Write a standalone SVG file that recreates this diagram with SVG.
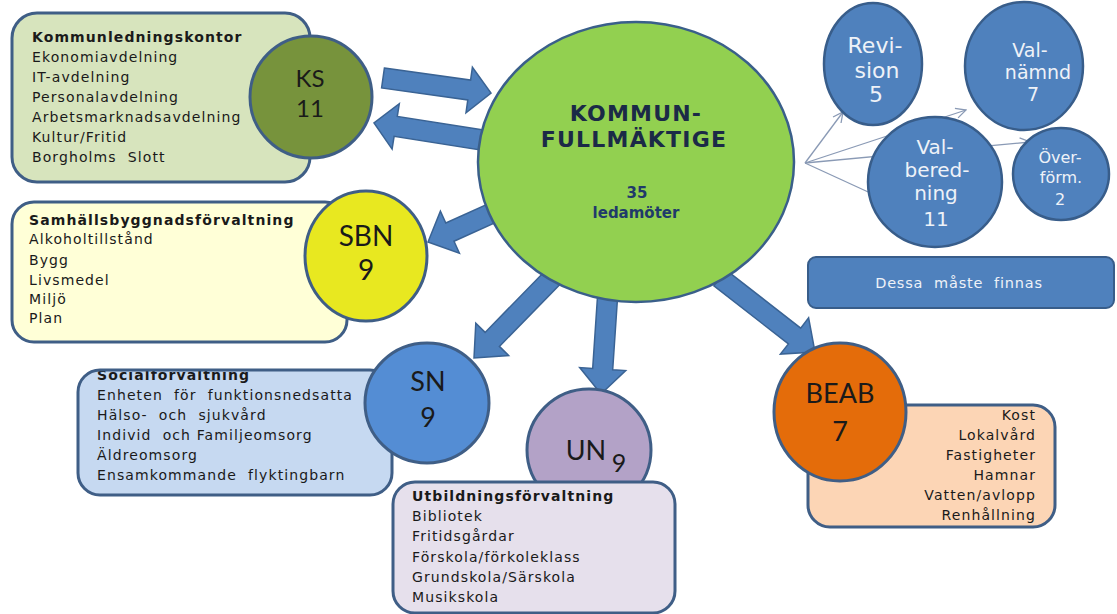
<svg xmlns="http://www.w3.org/2000/svg" width="1117" height="614" viewBox="0 0 1117 614">
<defs>
<marker id="v" viewBox="0 0 12 12" refX="11" refY="6" markerWidth="12" markerHeight="12" markerUnits="userSpaceOnUse" orient="auto"><path d="M1,1 L11,6 L1,11" fill="none" stroke="#8a9ab5" stroke-width="1.3"/></marker>
<style>
.box{stroke:#3f5e86;stroke-width:3}
.edge{fill:none;stroke:#3f5e86;stroke-width:3}
.c{stroke:#3f5e86;stroke-width:3}
.t{font-family:"DejaVu Sans",Verdana,sans-serif;font-size:14px;letter-spacing:1.1px;fill:#1a1a1a}
.tb{font-weight:bold}
.lbl{font-family:Lato,"Open Sans",sans-serif;fill:#1a1a1a;text-anchor:middle}
.wl{font-family:"DejaVu Sans",Verdana,sans-serif;fill:#eef2f8;text-anchor:middle}
.kf{font-family:"DejaVu Sans",Verdana,sans-serif;font-weight:bold;text-anchor:middle}
.bc{fill:#4f81bd;stroke:#385d8a;stroke-width:2.5}
.arr{fill:#4f81bd;stroke:#3a6394;stroke-width:1.5}
.thin{stroke:#8a9ab5;stroke-width:1.3;fill:none;marker-end:url(#v)}
</style>
</defs>
<rect width="1117" height="614" fill="#ffffff"/>

<g id="connectors">
<polygon class="arr" points="384.4,68.1 470.6,80.1 472.4,67.2 491,93 466,112.8 467.8,99.9 381.6,87.9"/>
<polygon class="arr" points="483.6,130.1 397.3,116.5 399.3,103.7 374,123 392.1,149.1 394.1,136.3 480.4,149.9"/>
<polygon class="arr" points="505.9,195.9 445.8,223 440.4,211.1 428,242 459.4,253.1 454,241.2 514.1,214.1"/>
<polygon class="arr" points="552.9,263 485.1,332.4 475.8,323.3 474,358 508.6,355.5 499.4,346.4 567.2,277"/>
<polygon class="arr" points="598,289.3 592.7,368.4 579.7,367.5 601,394 625.7,370.6 612.7,369.7 618,290.7"/>
<polygon class="arr" points="726.2,270.1 800.7,328.1 808.6,317.9 815,352 780.4,354.1 788.4,343.9 713.9,285.9"/>
<line class="thin" x1="805" y1="163" x2="843" y2="112"/>
<line class="thin" x1="805" y1="163" x2="966" y2="110"/>
<line class="thin" x1="805" y1="163" x2="1030" y2="142"/>
<line class="thin" x1="805" y1="163" x2="890" y2="202"/>
</g>

<g id="kf">
<ellipse cx="636" cy="162" rx="158" ry="140" fill="#92d050" stroke="#3a5f8a" stroke-width="2.5"/>
<text class="kf" x="636" y="121" font-size="22" letter-spacing="1.2" fill="#1b2a47">KOMMUN-</text>
<text class="kf" x="634" y="147" font-size="22" letter-spacing="1.2" fill="#1b2a47">FULLMÄKTIGE</text>
<text class="kf" x="637" y="198" font-size="15" fill="#1f3a6a">35</text>
<text class="kf" x="636" y="218" font-size="15" fill="#1f3a6a">ledamöter</text>
</g>

<g id="ks">
<rect class="box" x="12" y="13" width="298" height="169" rx="25" fill="#d7e4bd"/>
<text class="t tb" x="32" y="42">Kommunledningskontor</text>
<text class="t" x="32" y="62">Ekonomiavdelning</text>
<text class="t" x="32" y="82">IT-avdelning</text>
<text class="t" x="32" y="102">Personalavdelning</text>
<text class="t" x="32" y="122">Arbetsmarknadsavdelning</text>
<text class="t" x="32" y="142">Kultur/Fritid</text>
<text class="t" x="32" y="162" xml:space="preserve">Borgholms  Slott</text>
<circle class="c" cx="311" cy="97" r="61" fill="#77933c"/>
<text class="lbl" x="310" y="87" font-size="24">KS</text>
<text class="lbl" x="310" y="117" font-size="24">11</text>
</g>

<g id="sbn">
<rect class="box" x="12" y="202" width="335" height="140" rx="22" fill="#ffffd7"/>
<text class="t tb" x="29" y="225">Samhällsbyggnadsförvaltning</text>
<text class="t" x="29" y="244">Alkoholtillstånd</text>
<text class="t" x="29" y="265">Bygg</text>
<text class="t" x="29" y="285">Livsmedel</text>
<text class="t" x="29" y="304">Miljö</text>
<text class="t" x="29" y="323">Plan</text>
<ellipse class="c" cx="366" cy="256" rx="61" ry="65" fill="#e8e820"/>
<text class="lbl" x="366" y="246" font-size="28">SBN</text>
<text class="lbl" x="366" y="280" font-size="28">9</text>
</g>

<g id="sn">
<rect x="78" y="370" width="314" height="125" rx="22" fill="#c6d9f1"/>
<text class="t tb" x="97" y="380">Socialförvaltning</text>
<rect class="edge" x="78" y="370" width="314" height="125" rx="22"/>
<text class="t" x="97" y="400" xml:space="preserve">Enheten  för  funktionsnedsatta</text>
<text class="t" x="97" y="420" xml:space="preserve">Hälso-  och  sjukvård</text>
<text class="t" x="97" y="440" xml:space="preserve">Individ  och Familjeomsorg</text>
<text class="t" x="97" y="460">Äldreomsorg</text>
<text class="t" x="97" y="480" xml:space="preserve">Ensamkommande  flyktingbarn</text>
<ellipse class="c" cx="427" cy="403" rx="62" ry="60" fill="#548dd4"/>
<text class="lbl" x="428" y="391" font-size="27">SN</text>
<text class="lbl" x="428" y="427" font-size="27">9</text>
</g>

<g id="un">
<ellipse class="c" cx="589" cy="450" rx="62" ry="61" fill="#b3a2c7"/>
<text class="lbl" x="586" y="460" font-size="27">UN</text>
<text class="lbl" x="619" y="472" font-size="25">9</text>
<rect class="box" x="393" y="482" width="282" height="131" rx="22" fill="#e6e0ec"/>
<text class="t tb" x="412" y="501">Utbildningsförvaltning</text>
<text class="t" x="412" y="521">Bibliotek</text>
<text class="t" x="412" y="541">Fritidsgårdar</text>
<text class="t" x="412" y="562">Förskola/förkoleklass</text>
<text class="t" x="412" y="582">Grundskola/Särskola</text>
<text class="t" x="412" y="602">Musikskola</text>
</g>

<g id="beab">
<rect class="box" x="808" y="405" width="247" height="122" rx="22" fill="#fcd5b5"/>
<g text-anchor="end">
<text class="t" x="1036" y="420">Kost</text>
<text class="t" x="1036" y="440">Lokalvård</text>
<text class="t" x="1036" y="460">Fastigheter</text>
<text class="t" x="1036" y="480">Hamnar</text>
<text class="t" x="1036" y="500">Vatten/avlopp</text>
<text class="t" x="1036" y="520">Renhållning</text>
</g>
<ellipse class="c" cx="840" cy="412" rx="66" ry="69" fill="#e46c0a"/>
<text class="lbl" x="840" y="403" font-size="27">BEAB</text>
<text class="lbl" x="840" y="441" font-size="27">7</text>
</g>

<g id="revision">
<ellipse class="bc" cx="873" cy="64" rx="49" ry="61"/>
<text class="wl" x="875" y="53" font-size="22">Revi-</text>
<text class="wl" x="877" y="78" font-size="22">sion</text>
<text class="wl" x="876" y="102" font-size="22">5</text>
</g>

<g id="valnamnd">
<ellipse class="bc" cx="1024" cy="66" rx="59" ry="64"/>
<text class="wl" x="1030" y="57" font-size="19">Val-</text>
<text class="wl" x="1038" y="79" font-size="19">nämnd</text>
<text class="wl" x="1033" y="101" font-size="19">7</text>
</g>

<g id="overform">
<ellipse class="bc" cx="1061" cy="174" rx="48" ry="46"/>
<text class="wl" x="1060" y="163" font-size="16">Över-</text>
<text class="wl" x="1061" y="183" font-size="16">förm.</text>
<text class="wl" x="1060" y="205" font-size="16">2</text>
</g>

<g id="valberedning">
<ellipse class="bc" cx="935" cy="182" rx="67" ry="65"/>
<text class="wl" x="935" y="154" font-size="20">Val-</text>
<text class="wl" x="937" y="177" font-size="20">bered-</text>
<text class="wl" x="936" y="200" font-size="20">ning</text>
<text class="wl" x="936" y="226" font-size="20">11</text>
</g>

<g id="dessa">
<rect x="808" y="257" width="306" height="51" rx="8" fill="#4f81bd" stroke="#385d8a" stroke-width="2"/>
<text class="wl" x="959" y="288" font-size="14.5" letter-spacing="0.8" xml:space="preserve">Dessa  måste  finnas</text>
</g>
</svg>
